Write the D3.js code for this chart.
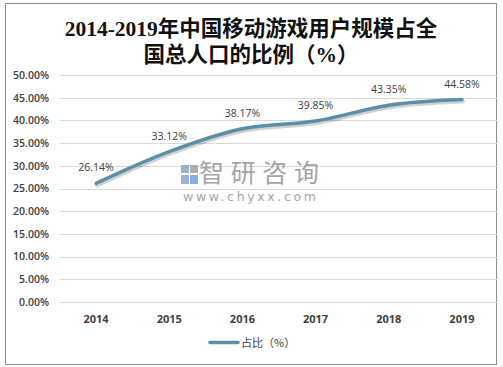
<!DOCTYPE html>
<html><head><meta charset="utf-8">
<script src="https://cdn.jsdelivr.net/npm/d3@7"></script>
<style>body{margin:0;background:#fff}svg{display:block}</style>
</head><body>
<script>
const years = ["2014","2015","2016","2017","2018","2019"];
const shares = [26.14, 33.12, 38.17, 39.85, 43.35, 44.58];
const yTicks = [0,5,10,15,20,25,30,35,40,45,50];
const titleLines = ["2014-2019年中国移动游戏用户规模占全","国总人口的比例（%）"];
const seriesName = "占比（%）";

(function(){
const W = 503, H = 367;
const svg = d3.select("body").append("svg").attr("width", W).attr("height", H);
svg.append("rect").attr("x",5.5).attr("y",3.5).attr("width",491).attr("height",361)
  .attr("fill","#fff").attr("stroke","#8c8c8c").attr("stroke-width",1);

const pL = 59.5, pR = 497, pT = 75, pB = 302;
const x = d3.scaleBand().domain(years).range([pL, pR + 1.5]);
const y = d3.scaleLinear().domain([0,50]).range([pB, pT]);

// title
const title = svg.append("text").attr("text-anchor","middle")
  .attr("font-family","'Liberation Serif','Noto Sans CJK SC',serif")
  .attr("font-weight","bold").attr("font-size",21.5).attr("fill","#111");
titleLines.forEach((t,i)=>title.append("tspan").attr("x",251).attr("y",36+i*26).text(t));

// grid
svg.append("g").selectAll("line").data(yTicks).join("line")
  .attr("x1",pL).attr("x2",pR).attr("y1",d=>Math.round(y(d))+0.5).attr("y2",d=>Math.round(y(d))+0.5)
  .attr("stroke","#d9d9d9").attr("stroke-width",1);

// y axis labels
const yAxis = d3.axisLeft(y).tickValues(yTicks).tickSize(0).tickPadding(0)
  .tickFormat(d=>d.toFixed(2)+"%");
const gy = svg.append("g").attr("transform","translate(49,0)").call(yAxis);
gy.select(".domain").remove();
gy.selectAll("text").attr("font-family","'Open Sans','Liberation Sans',sans-serif")
  .attr("font-size",10.5).attr("font-weight","600").attr("fill","#404040");

// x axis labels
const xAxis = d3.axisBottom(x).tickSize(0).tickPadding(0);
const gx = svg.append("g").attr("transform","translate(0,315)").call(xAxis);
gx.select(".domain").remove();
gx.selectAll("text").attr("font-family","'Open Sans','Liberation Sans',sans-serif")
  .attr("font-size",11).attr("font-weight","bold").attr("fill","#404040");

// watermark
const wm = svg.append("g").attr("opacity",0.85);
wm.append("rect").attr("x",181).attr("y",165).attr("width",8).attr("height",8).attr("fill","#8aa6c8");
wm.append("rect").attr("x",181).attr("y",175).attr("width",8).attr("height",9).attr("fill","#8aa6c8");
wm.append("rect").attr("x",190).attr("y",165).attr("width",8).attr("height",8).attr("fill","#a0a0a0");
wm.append("rect").attr("x",190).attr("y",175).attr("width",8).attr("height",9).attr("fill","#6fa0d8");
wm.append("text").attr("x",199).attr("y",182).attr("font-family","'Noto Sans CJK SC',sans-serif")
  .attr("font-size",25).attr("fill","#959595").attr("textLength",120).attr("lengthAdjust","spacing").text("智研咨询");
wm.append("text").attr("x",183).attr("y",201).attr("font-family","'DejaVu Sans',sans-serif")
  .attr("font-size",12.5).attr("fill","#959595").attr("textLength",133).attr("lengthAdjust","spacing").text("www.chyxx.com");

// line
const data = years.map((yr,i)=>({yr, v: shares[i]}));
const line = d3.line().x(d=>x(d.yr)+x.bandwidth()/2).y(d=>y(d.v)).curve(d3.curveMonotoneX);
svg.append("path").datum(data).attr("d",line).attr("fill","none")
  .attr("stroke","#000").attr("stroke-opacity",0.18).attr("stroke-width",4)
  .attr("transform","translate(1,2)").attr("stroke-linecap","round");
svg.append("path").datum(data).attr("d",line).attr("fill","none")
  .attr("stroke","#5b8ea8").attr("stroke-width",3.5).attr("stroke-linecap","round");

// data labels
svg.append("g").selectAll("text").data(data).join("text")
  .attr("x",d=>x(d.yr)+x.bandwidth()/2).attr("y",d=>y(d.v)-12)
  .attr("text-anchor","middle").attr("font-family","'Open Sans','Liberation Sans',sans-serif")
  .attr("font-size",10.5).attr("fill","#404040").text(d=>d.v.toFixed(2)+"%");

// legend
svg.append("line").attr("x1",210).attr("x2",238).attr("y1",342.5).attr("y2",342.5)
  .attr("stroke","#5b8ea8").attr("stroke-width",3.5).attr("stroke-linecap","round");
svg.append("text").attr("x",241).attr("y",347).attr("font-family","'Noto Sans CJK SC',sans-serif")
  .attr("font-size",11).attr("fill","#404040").text(seriesName);
})();
</script>
</body></html>
